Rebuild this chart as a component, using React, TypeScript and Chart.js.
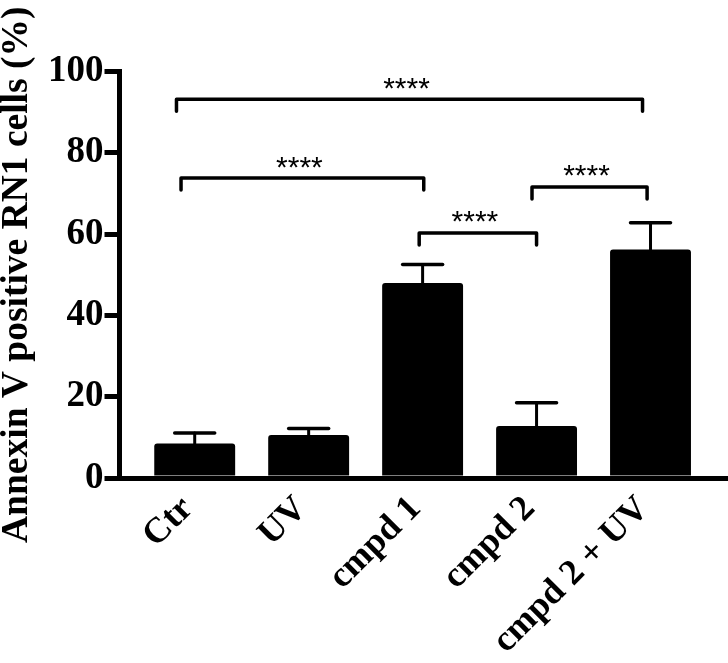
import React, { useEffect, useRef } from 'react';
import { Chart, registerables } from 'chart.js';

Chart.register(...registerables);

const categories = ['Ctr', 'UV', 'cmpd 1', 'cmpd 2', 'cmpd 2 + UV'];
const means = [8.5, 10.6, 48.0, 12.8, 56.2];
const errors = [2.6, 1.6, 4.5, 5.7, 6.6];
const yTicks = [0, 20, 40, 60, 80, 100];
const yTitle = 'Annexin V positive RN1 cells (%)';

// significance brackets (x in category-index units, y in %)
const bracketFrom = [-0.16, -0.12, 1.97, 2.96];
const bracketTo = [3.93, 2.01, 3.0, 3.97];
const bracketY = [93.2, 73.8, 60.3, 71.6];
const bracketLabels = ['****', '****', '****', '****'];

const SERIF = '"Liberation Serif", "Times New Roman", serif';
const SANS = '"Liberation Sans", Arial, sans-serif';

const annotationPlugin = {
  id: 'annotations',
  afterDatasetsDraw(chart: any) {
    const ctx = chart.ctx;
    const xs = chart.scales.x;
    const ys = chart.scales.y;
    ctx.save();
    ctx.strokeStyle = '#000';
    ctx.lineCap = 'round';
    ctx.lineJoin = 'round';
    // error bars
    means.forEach((m, i) => {
      const x = xs.getPixelForValue(i);
      const yb = ys.getPixelForValue(m);
      const yt = ys.getPixelForValue(m + errors[i]);
      ctx.lineWidth = 3;
      ctx.beginPath();
      ctx.moveTo(x, yb);
      ctx.lineTo(x, yt);
      ctx.stroke();
      ctx.lineWidth = 3.5;
      ctx.beginPath();
      ctx.moveTo(x - 20, yt);
      ctx.lineTo(x + 20, yt);
      ctx.stroke();
    });
    // brackets
    ctx.font = '30px ' + SANS;
    ctx.fillStyle = '#000';
    ctx.textAlign = 'center';
    ctx.textBaseline = 'alphabetic';
    bracketY.forEach((yv, i) => {
      const x1 = xs.getPixelForValue(bracketFrom[i]);
      const x2 = xs.getPixelForValue(bracketTo[i]);
      const y = ys.getPixelForValue(yv);
      ctx.lineWidth = 3.5;
      ctx.beginPath();
      ctx.moveTo(x1, y + 12);
      ctx.lineTo(x1, y);
      ctx.lineTo(x2, y);
      ctx.lineTo(x2, y + 12);
      ctx.stroke();
      const m = ctx.measureText(bracketLabels[i]);
      const asc = m.actualBoundingBoxAscent;
      const desc = m.actualBoundingBoxDescent;
      const centerY = y - 16;
      ctx.fillText(bracketLabels[i], (x1 + x2) / 2 - 3, centerY + (asc - desc) / 2);
    });
    ctx.restore();
  },
};

export default function App() {
  const canvasRef = useRef<HTMLCanvasElement | null>(null);

  useEffect(() => {
    document.body.style.margin = '0';
    const canvas = canvasRef.current;
    if (!canvas) return;
    const chart = new Chart(canvas, {
      type: 'bar',
      data: {
        datasets: [
          {
            data: means.map((v, i) => ({ x: i, y: v })),
            backgroundColor: '#000',
            borderWidth: 0,
            borderRadius: 3,
            borderSkipped: 'bottom',
            categoryPercentage: 1,
            barPercentage: 0.71,
          },
        ],
      },
      options: {
        animation: false,
        responsive: true,
        maintainAspectRatio: false,
        layout: { padding: { top: 71.5, right: 0, left: 0, bottom: 0 } },
        plugins: {
          legend: { display: false },
          tooltip: { enabled: false },
        },
        scales: {
          x: {
            type: 'linear',
            offset: false,
            bounds: 'data',
            min: -0.66,
            max: 4.68,
            afterBuildTicks: (axis: any) => {
              axis.ticks = categories.map((_, i) => ({ value: i }));
            },
            afterFit: (axis: any) => {
              axis.height = 185;
            },
            grid: { display: true, offset: false, drawOnChartArea: false, drawTicks: false },
            border: { display: true, width: 5, color: '#000' },
            ticks: {
              autoSkip: false,
              minRotation: 45,
              maxRotation: 45,
              padding: 10,
              labelOffset: -7,
              color: '#000',
              font: { family: SERIF, size: 36, weight: 'bold' },
              callback: (v: any) => categories[Math.round(Number(v))] ?? '',
            },
          },
          y: {
            min: 0,
            max: 100,
            afterBuildTicks: (axis: any) => {
              axis.ticks = yTicks.map((v) => ({ value: v }));
            },
            afterFit: (axis: any) => {
              axis.width = 119.5;
            },
            grid: {
              display: true,
              drawOnChartArea: false,
              drawTicks: true,
              tickLength: 15,
              lineWidth: 5,
              color: '#000',
            },
            border: { display: true, width: 5, color: '#000' },
            ticks: {
              padding: 1,
              color: '#000',
              font: { family: SERIF, size: 37, weight: 'bold' },
            },
            title: {
              display: true,
              text: yTitle,
              color: '#000',
              font: { family: SERIF, size: 37.5, weight: 'bold', lineHeight: 0.9 },
              padding: { top: 0, bottom: 0 },
            },
          },
        },
      },
      plugins: [annotationPlugin],
    });
    return () => chart.destroy();
  }, []);

  return (
    <div style={{ width: 728, height: 663, position: 'relative' }}>
      <canvas ref={canvasRef} />
    </div>
  );
}
